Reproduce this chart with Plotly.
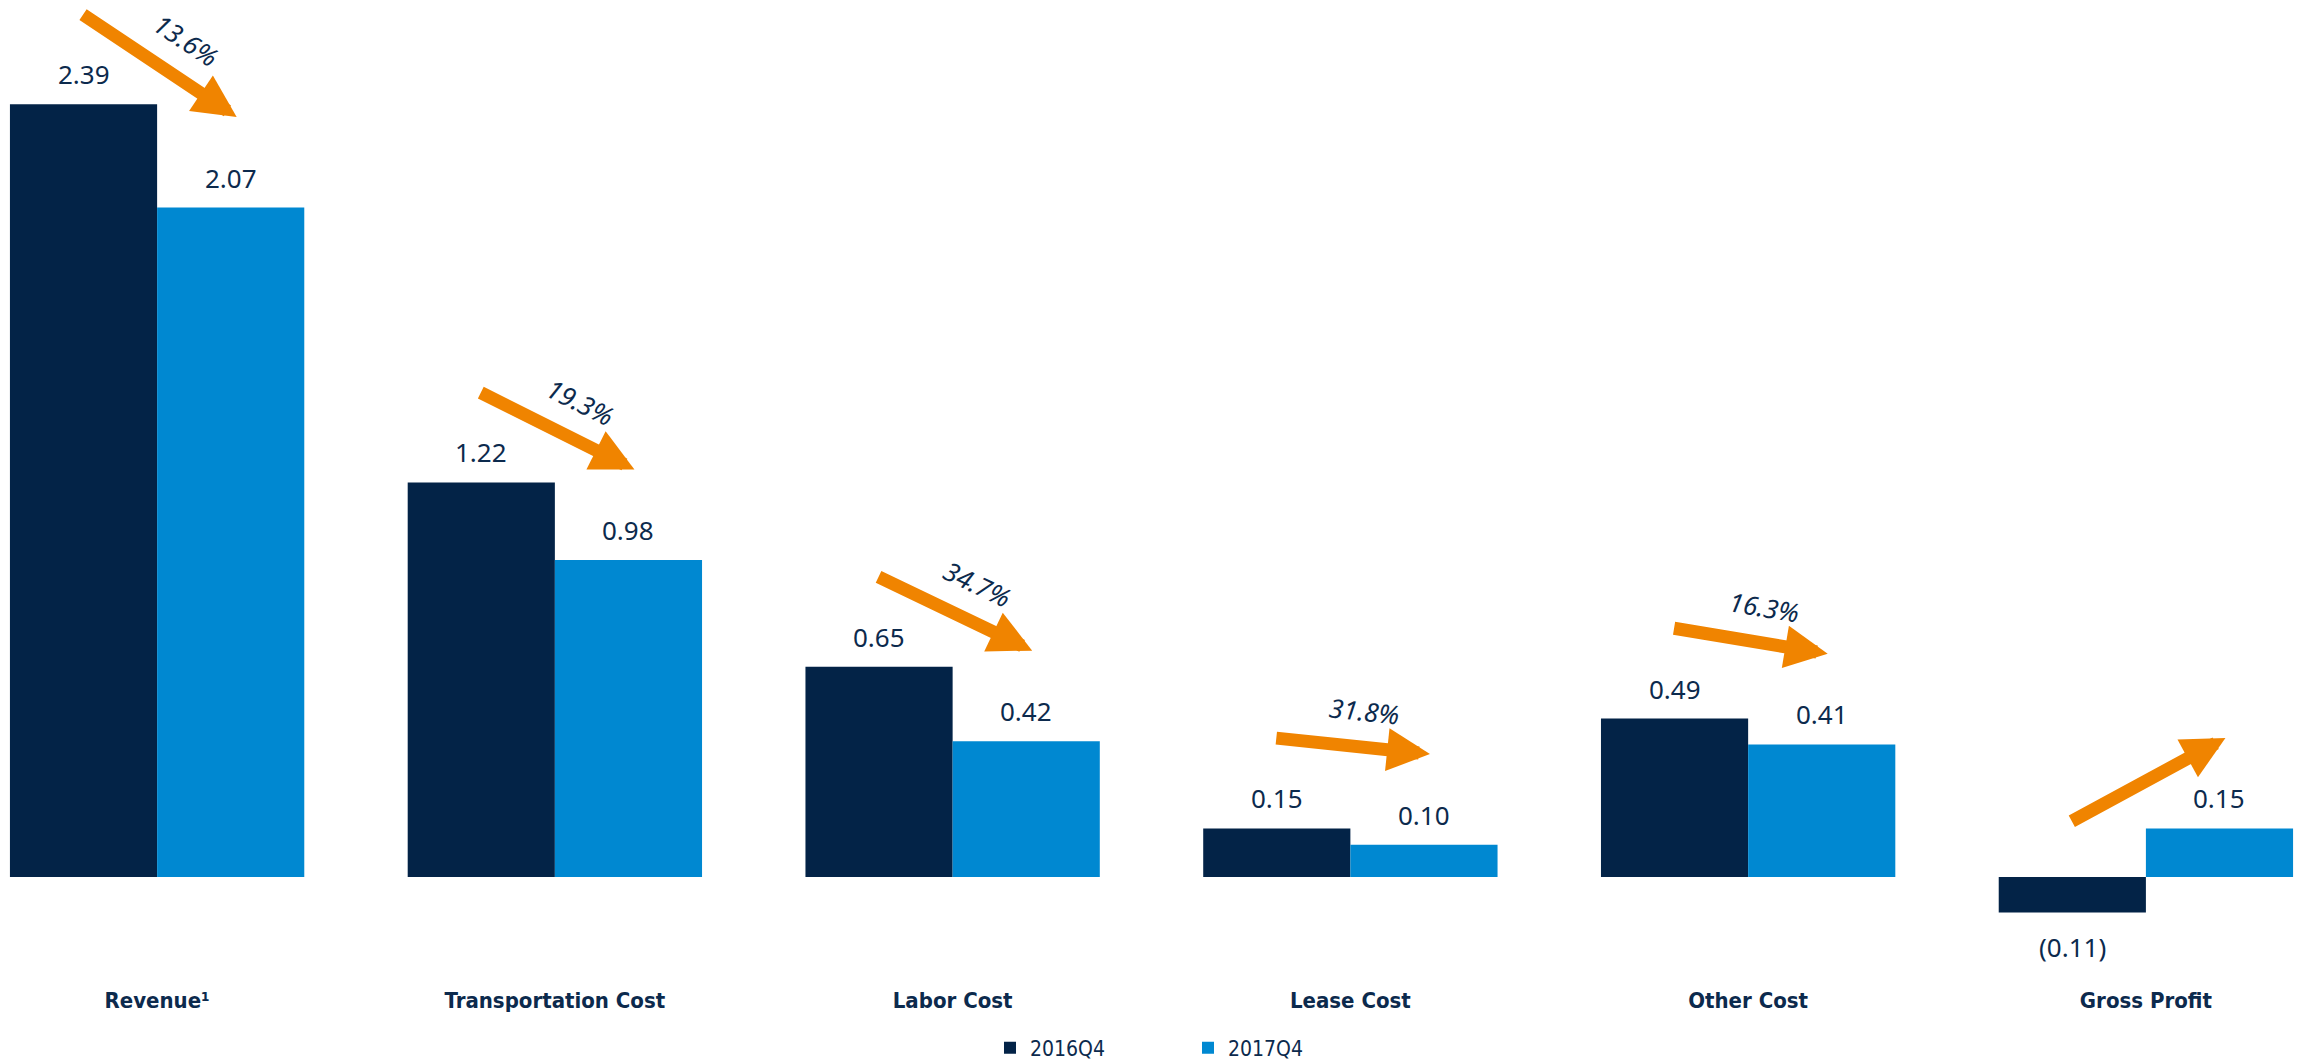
import math
import plotly.graph_objects as go

# ---- data ----
categories = ["Revenue¹", "Transportation Cost", "Labor Cost", "Lease Cost", "Other Cost", "Gross Profit"]
series_names = ["2016Q4", "2017Q4"]
values_2016q4 = [2.39, 1.22, 0.65, 0.15, 0.49, -0.11]
values_2017q4 = [2.07, 0.98, 0.42, 0.10, 0.41, 0.15]
value_labels_2016q4 = ["2.39", "1.22", "0.65", "0.15", "0.49", "(0.11)"]
value_labels_2017q4 = ["2.07", "0.98", "0.42", "0.10", "0.41", "0.15"]
change_labels = ["13.6%", "19.3%", "34.7%", "31.8%", "16.3%", ""]

# ---- style ----
W, H = 2305, 1063
M_L, M_R, M_T, M_B = 0, 0, 0, 78
XR = [-0.395, 5.40]
YR = [-0.334, 2.712]
DARK = "#032347"
LIGHT = "#0088D1"
NAVY = "#0C2A4D"
ORANGE = "#F08400"
BARGAP = 0.26
NUM_FONT = "Noto Sans"
CAT_FONT = "DejaVu Sans Condensed, Roboto Condensed, Roboto, sans-serif"

x_pos = list(range(len(categories)))
bar_w = (1 - BARGAP) / 2
plot_w = W - M_L - M_R
plot_h = H - M_T - M_B
px_x = plot_w / (XR[1] - XR[0])
px_y = plot_h / (YR[1] - YR[0])

fig = go.Figure()
fig.add_trace(go.Bar(x=x_pos, y=values_2016q4, name=series_names[0],
                     marker=dict(color=DARK, line=dict(width=0)), hoverinfo="skip"))
fig.add_trace(go.Bar(x=x_pos, y=values_2017q4, name=series_names[1],
                     marker=dict(color=LIGHT, line=dict(width=0)), hoverinfo="skip"))

annotations = []
# value labels
for i in x_pos:
    for off, v, lab in ((-bar_w / 2, values_2016q4[i], value_labels_2016q4[i]),
                        (bar_w / 2, values_2017q4[i], value_labels_2017q4[i])):
        pos = v >= 0
        annotations.append(dict(
            x=i + off, y=v, xref="x", yref="y", text=lab, showarrow=False,
            yanchor="bottom" if pos else "top", yshift=10 if pos else -14,
            font=dict(family=NUM_FONT, size=26, color=NAVY)))

# change arrows + labels
TAIL_DX, TIP_DX, ARROW_DY = -0.19, 0.20, 0.28
for i in x_pos:
    tx, ty = i + TAIL_DX, values_2016q4[i] + ARROW_DY
    hx, hy = i + TIP_DX, values_2017q4[i] + ARROW_DY
    annotations.append(dict(
        x=hx, y=hy, ax=tx, ay=ty, xref="x", yref="y", axref="x", ayref="y",
        text="", showarrow=True, arrowhead=2, arrowsize=0.66, arrowwidth=13,
        arrowcolor=ORANGE, standoff=0))
    if change_labels[i]:
        dx = (hx - tx) * px_x
        dy = -(hy - ty) * px_y
        th = math.atan2(dy, dx)
        annotations.append(dict(
            x=(tx + hx) / 2, y=(ty + hy) / 2, xref="x", yref="y",
            text="<i>" + change_labels[i] + "</i>", showarrow=False,
            textangle=math.degrees(th),
            xshift=36 * math.sin(th) + 8 * math.cos(th),
            yshift=36 * math.cos(th) - 8 * math.sin(th),
            font=dict(family=NUM_FONT, size=26, color=NAVY)))

fig.update_layout(
    width=W, height=H,
    margin=dict(l=M_L, r=M_R, t=M_T, b=M_B, autoexpand=False),
    paper_bgcolor="white", plot_bgcolor="white",
    barmode="group", bargap=BARGAP, bargroupgap=0,
    showlegend=True,
    legend=dict(orientation="h", x=0.4295, xanchor="left", y=-0.064, yanchor="middle",
                entrywidth=153, entrywidthmode="pixels",
                font=dict(family=CAT_FONT, size=21, color=NAVY),
                bgcolor="rgba(0,0,0,0)"),
    xaxis=dict(range=XR, tickmode="array", tickvals=x_pos, ticktext=categories,
               showgrid=False, zeroline=False, showline=False, ticks="",
               tickfont=dict(family=CAT_FONT, size=22, color=NAVY, weight="bold"),
               fixedrange=True),
    yaxis=dict(range=YR, showgrid=False, zeroline=False, showline=False,
               showticklabels=False, ticks="", fixedrange=True),
    annotations=annotations,
)

fig.write_html("out.html")
